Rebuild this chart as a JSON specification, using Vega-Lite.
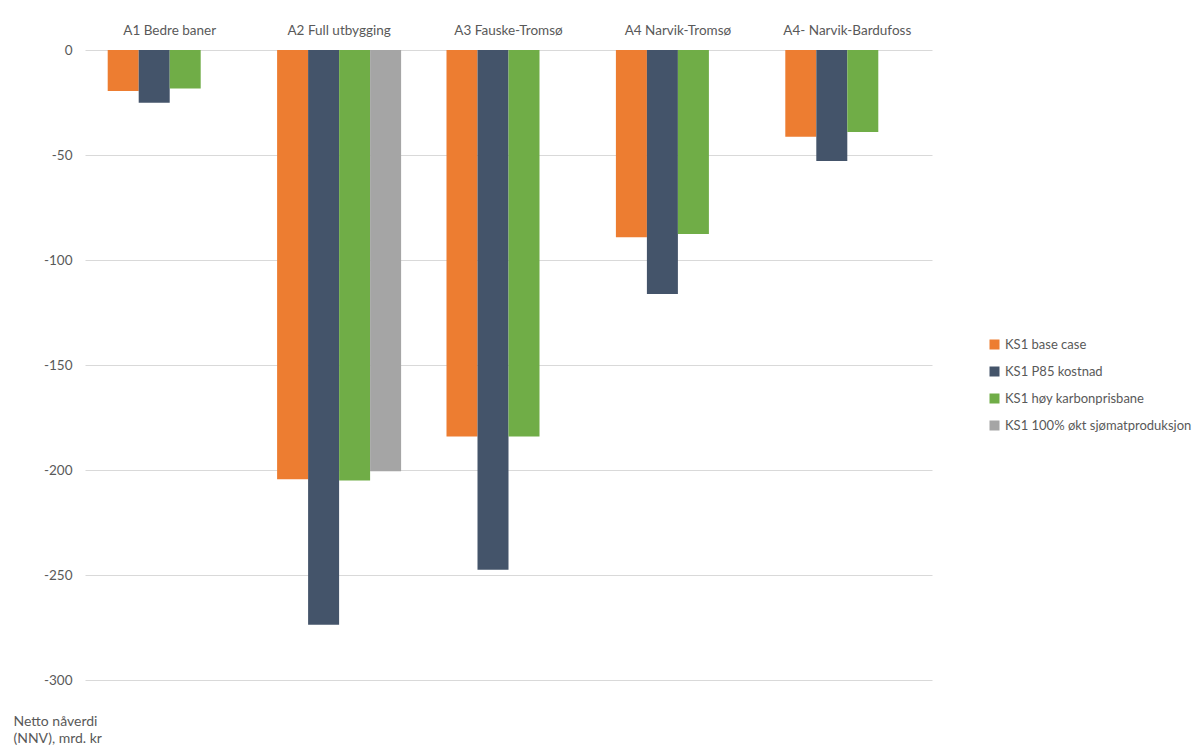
{
  "$schema": "https://vega.github.io/schema/vega-lite/v6.json",
  "width": 847,
  "height": 630,
  "autosize": {"type": "none"},
  "padding": {"left": 85, "top": 50, "right": 266, "bottom": 73},
  "background": "white",
  "config": {
    "font": "Lato",
    "view": {"stroke": null},
    "axis": {"labelFont": "Lato", "titleFont": "Lato", "labelColor": "#595959", "titleColor": "#595959"},
    "legend": {"labelFont": "Lato"}
  },
  "data": {
    "values": [
      {"alt": "A1 Bedre baner", "serie": "KS1 base case", "nnv": -19.5},
      {"alt": "A1 Bedre baner", "serie": "KS1 P85 kostnad", "nnv": -25.1},
      {"alt": "A1 Bedre baner", "serie": "KS1 høy karbonprisbane", "nnv": -18.3},
      {"alt": "A2 Full utbygging", "serie": "KS1 base case", "nnv": -204.4},
      {"alt": "A2 Full utbygging", "serie": "KS1 P85 kostnad", "nnv": -273.7},
      {"alt": "A2 Full utbygging", "serie": "KS1 høy karbonprisbane", "nnv": -205.0},
      {"alt": "A2 Full utbygging", "serie": "KS1 100% økt sjømatproduksjon", "nnv": -200.6},
      {"alt": "A3 Fauske-Tromsø", "serie": "KS1 base case", "nnv": -184.0},
      {"alt": "A3 Fauske-Tromsø", "serie": "KS1 P85 kostnad", "nnv": -247.5},
      {"alt": "A3 Fauske-Tromsø", "serie": "KS1 høy karbonprisbane", "nnv": -184.0},
      {"alt": "A4 Narvik-Tromsø", "serie": "KS1 base case", "nnv": -89.2},
      {"alt": "A4 Narvik-Tromsø", "serie": "KS1 P85 kostnad", "nnv": -116.2},
      {"alt": "A4 Narvik-Tromsø", "serie": "KS1 høy karbonprisbane", "nnv": -87.6},
      {"alt": "A4- Narvik-Bardufoss", "serie": "KS1 base case", "nnv": -41.3},
      {"alt": "A4- Narvik-Bardufoss", "serie": "KS1 P85 kostnad", "nnv": -52.9},
      {"alt": "A4- Narvik-Bardufoss", "serie": "KS1 høy karbonprisbane", "nnv": -39.1}
    ]
  },
  "mark": {"type": "bar"},
  "encoding": {
    "x": {
      "field": "alt",
      "type": "nominal",
      "sort": null,
      "scale": {"paddingInner": 0.268, "paddingOuter": 0.134},
      "axis": {
        "orient": "top",
        "title": null,
        "domain": false,
        "ticks": false,
        "labelAngle": 0,
        "labelFontSize": 13.5,
        "labelPadding": 13
      }
    },
    "xOffset": {
      "field": "serie",
      "type": "nominal",
      "sort": ["KS1 base case", "KS1 P85 kostnad", "KS1 høy karbonprisbane", "KS1 100% økt sjømatproduksjon"],
      "scale": {"domain": ["KS1 base case", "KS1 P85 kostnad", "KS1 høy karbonprisbane", "KS1 100% økt sjømatproduksjon"], "paddingInner": 0, "paddingOuter": 0}
    },
    "y": {
      "field": "nnv",
      "type": "quantitative",
      "scale": {"domain": [-300, 0], "nice": false, "zero": true},
      "axis": {
        "values": [0, -50, -100, -150, -200, -250, -300],
        "labelExpr": "'' + datum.value",
        "grid": true,
        "gridColor": "#D9D9D9",
        "gridWidth": 1,
        "domain": false,
        "ticks": false,
        "labelFontSize": 13.5,
        "labelPadding": 13,
        "title": ["Netto nåverdi", "(NNV), mrd. kr"],
        "titleAngle": 0,
        "titleAlign": "left",
        "titleBaseline": "top",
        "titleFontSize": 14,
        "titleFontWeight": "normal",
        "titleLineHeight": 17,
        "titleX": -72,
        "titleY": 664
      }
    },
    "color": {
      "field": "serie",
      "type": "nominal",
      "scale": {
        "domain": ["KS1 base case", "KS1 P85 kostnad", "KS1 høy karbonprisbane", "KS1 100% økt sjømatproduksjon"],
        "range": ["#ED7D31", "#44546A", "#70AD47", "#A5A5A5"]
      },
      "legend": {
        "title": null,
        "orient": "none",
        "legendX": 903,
        "legendY": 288,
        "symbolType": "square",
        "symbolSize": 100,
        "symbolStrokeWidth": 0,
        "labelFontSize": 13,
        "labelColor": "#595959",
        "labelLimit": 300,
        "rowPadding": 13,
        "labelOffset": 4
      }
    }
  }
}
